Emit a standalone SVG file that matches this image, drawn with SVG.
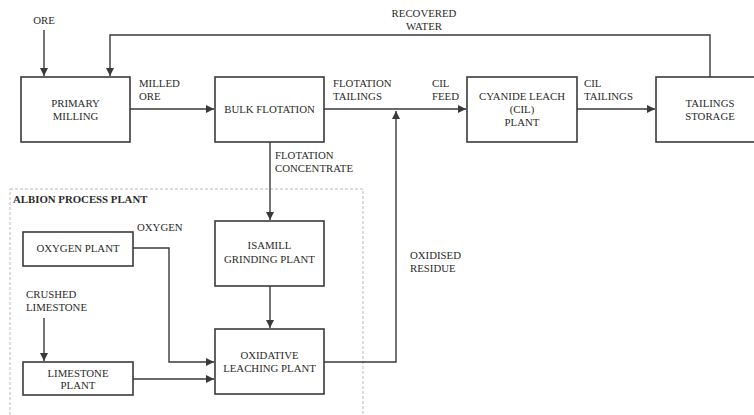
<svg xmlns="http://www.w3.org/2000/svg" width="754" height="415" viewBox="0 0 754 415">
<style>
.box{fill:#fff;stroke:#3a3a3a;stroke-width:1.6}
.ln{fill:none;stroke:#3a3a3a;stroke-width:1.4}
.t{font-family:"Liberation Serif","Times New Roman",serif;font-size:10.8px;fill:#2a2a2a}
.c{text-anchor:middle}
.b{font-weight:bold}
</style>
<defs>
<marker id="ah" viewBox="0 0 10 10" refX="10" refY="5" markerWidth="8" markerHeight="8" markerUnits="userSpaceOnUse" orient="auto">
<path d="M0,0 L10,5 L0,10 z" fill="#3a3a3a"/>
</marker>
</defs>
<rect x="10" y="189" width="353" height="240" fill="none" stroke="#aaa" stroke-width="0.8" stroke-dasharray="3,2"/>
<text x="13" y="203" class="t b">ALBION PROCESS PLANT</text>
<g id="connectors">
<path class="ln" d="M44,30 V76" marker-end="url(#ah)"/>
<path class="ln" d="M710,77 V35 H110 V76" marker-end="url(#ah)"/>
<path class="ln" d="M130,109 H214" marker-end="url(#ah)"/>
<path class="ln" d="M324,109 H466" marker-end="url(#ah)"/>
<path class="ln" d="M577,109 H655" marker-end="url(#ah)"/>
<path class="ln" d="M270,142 V220" marker-end="url(#ah)"/>
<path class="ln" d="M270,286 V328" marker-end="url(#ah)"/>
<path class="ln" d="M324,362 H396 V111" marker-end="url(#ah)"/>
<path class="ln" d="M133,248 H169 V362 H214" marker-end="url(#ah)"/>
<path class="ln" d="M44,318 V361" marker-end="url(#ah)"/>
<path class="ln" d="M133,379 H214" marker-end="url(#ah)"/>
</g>
<g id="labels">
<text x="44" y="24" class="t c">ORE</text>
<text x="424" y="17" class="t c">RECOVERED</text>
<text x="424" y="30" class="t c">WATER</text>
<text x="139" y="87" class="t">MILLED</text>
<text x="139" y="100" class="t">ORE</text>
<text x="333" y="87" class="t">FLOTATION</text>
<text x="333" y="100" class="t">TAILINGS</text>
<text x="432" y="87" class="t">CIL</text>
<text x="432" y="100" class="t">FEED</text>
<text x="584" y="87" class="t">CIL</text>
<text x="584" y="100" class="t">TAILINGS</text>
<text x="275" y="159" class="t">FLOTATION</text>
<text x="275" y="172" class="t">CONCENTRATE</text>
<text x="137" y="231" class="t">OXYGEN</text>
<text x="26" y="298" class="t">CRUSHED</text>
<text x="26" y="311" class="t">LIMESTONE</text>
<text x="410" y="259" class="t">OXIDISED</text>
<text x="410" y="272" class="t">RESIDUE</text>
</g>
<g id="primary-milling">
<rect class="box" x="21" y="77" width="109" height="65"/>
<text x="75.5" y="107" class="t c">PRIMARY</text>
<text x="75.5" y="120" class="t c">MILLING</text>
</g>
<g id="bulk-flotation">
<rect class="box" x="215" y="77" width="109" height="65"/>
<text x="269.5" y="113" class="t c">BULK FLOTATION</text>
</g>
<g id="cil-plant">
<rect class="box" x="467" y="77" width="110" height="65"/>
<text x="522" y="100" class="t c">CYANIDE LEACH</text>
<text x="522" y="113" class="t c">(CIL)</text>
<text x="522" y="126" class="t c">PLANT</text>
</g>
<g id="tailings-storage">
<rect class="box" x="656" y="77" width="110" height="65"/>
<text x="710" y="107" class="t c">TAILINGS</text>
<text x="710" y="120" class="t c">STORAGE</text>
</g>
<g id="isamill">
<rect class="box" x="215" y="221" width="109" height="65"/>
<text x="269.5" y="249" class="t c">ISAMILL</text>
<text x="269.5" y="263" class="t c">GRINDING PLANT</text>
</g>
<g id="oxidative-leaching">
<rect class="box" x="215" y="329" width="109" height="65"/>
<text x="269.5" y="359" class="t c">OXIDATIVE</text>
<text x="269.5" y="372" class="t c">LEACHING PLANT</text>
</g>
<g id="oxygen-plant">
<rect class="box" x="23" y="232" width="110" height="34"/>
<text x="78" y="252" class="t c">OXYGEN PLANT</text>
</g>
<g id="limestone-plant">
<rect class="box" x="23" y="362" width="110" height="33"/>
<text x="78" y="377" class="t c">LIMESTONE</text>
<text x="78" y="389" class="t c">PLANT</text>
</g>
</svg>
